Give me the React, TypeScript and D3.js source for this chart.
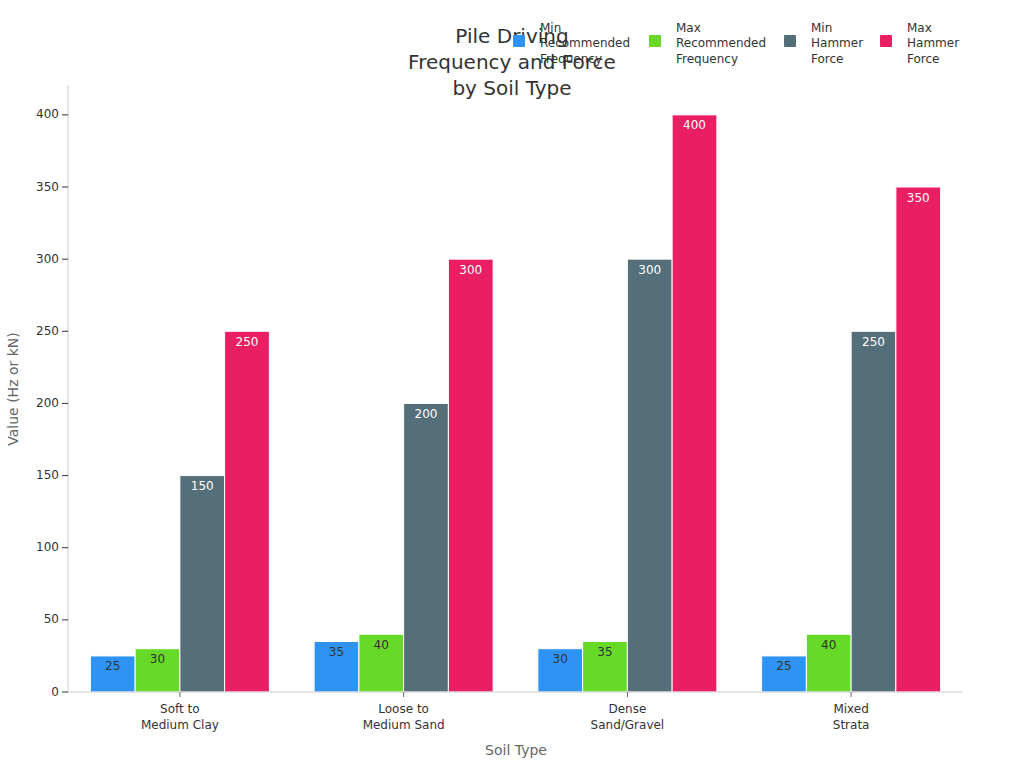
import { useMemo } from "react";
import * as d3 from "d3";

const categories = [
  ["Soft to", "Medium Clay"],
  ["Loose to", "Medium Sand"],
  ["Dense", "Sand/Gravel"],
  ["Mixed", "Strata"],
];
const seriesNames = [
  ["Min", "Recommended", "Frequency"],
  ["Max", "Recommended", "Frequency"],
  ["Min", "Hammer", "Force"],
  ["Max", "Hammer", "Force"],
];
const minFreq = [25, 35, 30, 25];
const maxFreq = [30, 40, 35, 40];
const minForce = [150, 200, 300, 250];
const maxForce = [250, 300, 400, 350];
const yTicks = [0, 50, 100, 150, 200, 250, 300, 350, 400];

const colors = ["#2E93F5", "#66DA26", "#546E7A", "#E91E63"];
const labelColors = ["#333", "#333", "#fff", "#fff"];
const FONT = "DejaVu Sans, sans-serif";

const App = () => {
  const width = 1024,
    height = 768;
  const MARGIN = { top: 86, right: 61, bottom: 76, left: 68 };
  const boundsWidth = width - MARGIN.left - MARGIN.right;
  const boundsHeight = height - MARGIN.top - MARGIN.bottom;

  const series = [minFreq, maxFreq, minForce, maxForce];
  const groups = categories.map((c) => c.join(" "));

  const xScale = useMemo(
    () =>
      d3.scaleBand().domain(groups).range([0, boundsWidth]).paddingInner(0.2).paddingOuter(0.1),
    []
  );
  const xSub = useMemo(
    () =>
      d3.scaleBand<number>().domain([0, 1, 2, 3]).range([0, xScale.bandwidth()]),
    []
  );
  const yScale = useMemo(
    () => d3.scaleLinear().domain([0, 420]).range([boundsHeight, 0]),
    []
  );

  const bars = groups.map((g, gi) => (
    <g key={g} transform={`translate(${xScale(g)},0)`}>
      {series.map((s, si) => {
        const v = s[gi];
        const x = xSub(si)!;
        const y = yScale(v);
        return (
          <g key={si}>
            <rect
              x={x}
              y={y}
              width={xSub.bandwidth()}
              height={boundsHeight - y}
              fill={colors[si]}
              stroke="#fff"
              strokeWidth={1}
            />
            <text
              x={x + xSub.bandwidth() / 2}
              y={y + 11}
              textAnchor="middle"
              dominantBaseline="middle"
              fontSize={12}
              fill={labelColors[si]}
            >
              {v}
            </text>
          </g>
        );
      })}
    </g>
  ));

  const yAxis = yTicks.map((t) => (
    <g key={t} transform={`translate(0,${yScale(t)})`}>
      <line x1={-6} x2={0} stroke="#333" />
      <text x={-9} textAnchor="end" dominantBaseline="middle" fontSize={12} fill="#333">
        {t}
      </text>
    </g>
  ));

  const xAxis = categories.map((c, i) => {
    const cx = xScale(groups[i])! + xScale.bandwidth() / 2;
    return (
      <g key={i} transform={`translate(${cx},${boundsHeight})`}>
        <line y1={0} y2={5} stroke="#666" />
        {c.map((line, li) => (
          <text key={li} y={21 + li * 16} textAnchor="middle" fontSize={12} fill="#333">
            {line}
          </text>
        ))}
      </g>
    );
  });

  const legendX = [513, 649, 784, 880];
  const legend = seriesNames.map((lines, i) => (
    <g key={i} transform={`translate(${legendX[i]},0)`}>
      <rect x={0} y={35} width={12} height={12} fill={colors[i]} rx={1} />
      {lines.map((l, li) => (
        <text key={li} x={27} y={31.5 + li * 15.5} fontSize={12} fill="#333">
          {l}
        </text>
      ))}
    </g>
  ));

  const titleLines = ["Pile Driving", "Frequency and Force", "by Soil Type"];

  return (
    <div style={{ position: "absolute", left: 0, top: 0 }}>
      <svg width={width} height={height} fontFamily={FONT} style={{ display: "block" }}>
        <rect width={width} height={height} fill="#fff" />
        {titleLines.map((t, i) => (
          <text key={i} x={512} y={43 + i * 26} textAnchor="middle" fontSize={20} fill="#333">
            {t}
          </text>
        ))}
        <g transform={`translate(${MARGIN.left},${MARGIN.top})`}>
          {bars}
          <line x1={0} x2={0} y1={-1} y2={boundsHeight} stroke="#ccc" />
          <line x1={0} x2={boundsWidth} y1={boundsHeight} y2={boundsHeight} stroke="#ccc" />
          {yAxis}
          {xAxis}
        </g>
        <text
          transform={`translate(18,${MARGIN.top + boundsHeight / 2}) rotate(-90)`}
          textAnchor="middle"
          fontSize={14}
          fill="#666"
        >
          Value (Hz or kN)
        </text>
        <text x={516} y={755} textAnchor="middle" fontSize={14} fill="#666">
          Soil Type
        </text>
        {legend}
      </svg>
    </div>
  );
};

export default App;
